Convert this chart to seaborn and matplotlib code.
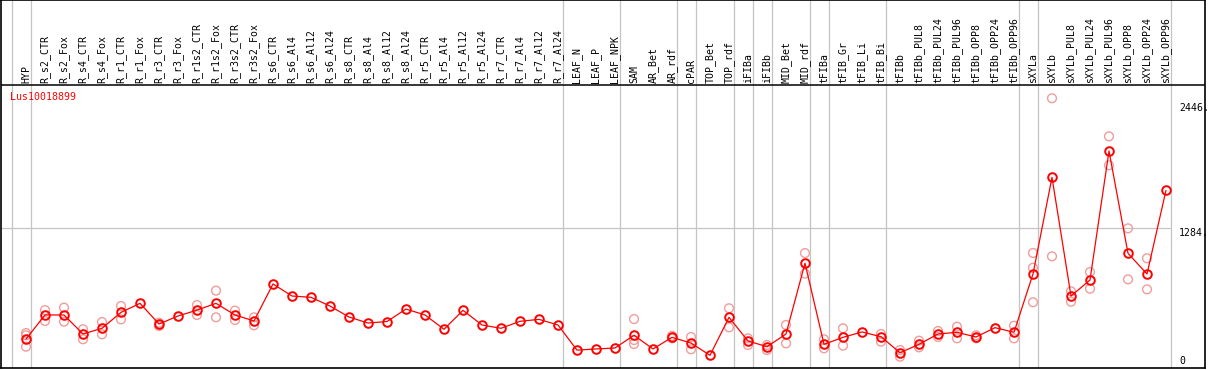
import numpy as np
import pandas as pd
import matplotlib
matplotlib.use("Agg")
import matplotlib.pyplot as plt
import seaborn as sns

# ---------------- data ----------------
categories = [
    "HYP", "R_s2_CTR", "R_s2_Fox", "R_s4_CTR", "R_s4_Fox", "R_r1_CTR", "R_r1_Fox",
    "R_r3_CTR", "R_r3_Fox", "R_r1s2_CTR", "R_r1s2_Fox", "R_r3s2_CTR", "R_r3s2_Fox",
    "R_s6_CTR", "R_s6_Al4", "R_s6_Al12", "R_s6_Al24", "R_s8_CTR", "R_s8_Al4",
    "R_s8_Al12", "R_s8_Al24", "R_r5_CTR", "R_r5_Al4", "R_r5_Al12", "R_r5_Al24",
    "R_r7_CTR", "R_r7_Al4", "R_r7_Al12", "R_r7_Al24", "LEAF_N", "LEAF_P", "LEAF_NPK",
    "SAM", "AR_Bet", "AR_rdf", "cPAR", "TOP_Bet", "TOP_rdf", "iFIBa", "iFIBb",
    "MID_Bet", "MID_rdf", "tFIBa", "tFIB_Gr", "tFIB_Li", "tFIB_Bi", "tFIBb",
    "tFIBb_PUL8", "tFIBb_PUL24", "tFIBb_PUL96", "tFIBb_OPP8", "tFIBb_OPP24",
    "tFIBb_OPP96", "sXYLa", "sXYLb", "sXYLb_PUL8", "sXYLb_PUL24", "sXYLb_PUL96",
    "sXYLb_OPP8", "sXYLb_OPP24", "sXYLb_OPP96",
]

mean_values = [
    255, 479, 479, 302, 355, 503, 587, 395, 469, 524, 587, 479, 423,
    767, 655, 643, 562, 460, 404, 418, 534, 479, 346, 522, 386,
    355, 420, 438, 386, 152, 163, 172,
    290, 163, 271, 218, 104, 457, 237, 184,
    302, 960, 206, 271, 321, 277, 128,
    206, 302, 318, 274, 361, 318,
    860, 1758, 655, 804, 2003, 1052, 860, 1637,
]

replicate_values = [
    [311, 290, 184], [524, 423], [547, 417], [346, 253], [413, 299], [562, 438], [],
    [407, 376], [], [571, 479], [705, 457], [519, 432], [457, 383],
    [], [], [], [], [], [], [], [], [], [], [], [],
    [], [], [], [], [], [], [],
    [441, 246, 209], [], [285, 262], [274, 160], [], [541, 364], [262, 200], [200, 153],
    [386, 215], [1054, 863], [253, 169], [355, 194], [], [302, 231], [153, 91],
    [240, 178], [330, 274], [370, 262], [290, 262], [], [379, 262],
    [1055, 918, 597], [2493, 1024], [699, 602], [878, 723], [2139, 1870],
    [1284, 810], [1006, 717], [],
]

group_starts = [0, 1, 29, 32, 35, 36, 38, 39, 40, 42, 43, 46, 53, 54, 61]
ytick_values = [0, 1284, 2446]
ytick_labels = ["0", "1284.", "2446."]
title_text = "Lus10018899"

# ---------------- layout ----------------
W, H = 1209, 370
PX_PER_UNIT = 0.1076      # pixels per value unit
ZERO_PX = 366.5           # pixel row of value 0
X0_PX, DX_PX = 26.0, 19.0 # pixel of first category, spacing

def vy(px):   # pixel row -> value
    return (ZERO_PX - px) / PX_PER_UNIT

def ix(px):   # pixel column -> category index
    return (px - X0_PX) / DX_PX

sns.set_style("white")
plt.rcParams["font.family"] = ["DejaVu Sans Mono", "DejaVu Sans"]
FS = 7.1

fig = plt.figure(figsize=(W / 100, H / 100), dpi=100)
ax = fig.add_axes([1 / W, (H - 368) / H, 1204 / W, 368 / H])

df_mean = pd.DataFrame({"idx": np.arange(len(categories)), "value": mean_values})
rows = [(i, v) for i, reps in enumerate(replicate_values) for v in reps]
df_rep = pd.DataFrame(rows, columns=["idx", "value"])

sns.scatterplot(data=df_rep, x="idx", y="value", ax=ax, marker="o", s=40,
                facecolor="none", edgecolor="#f29c9c", linewidth=1.0, zorder=2)
sns.lineplot(data=df_mean, x="idx", y="value", ax=ax, color="red", linewidth=0.9,
             marker="o", markersize=6.2, markerfacecolor="none",
             markeredgecolor="red", markeredgewidth=1.4, zorder=3)

ax.set_xlim(ix(1), ix(1205))
ax.set_ylim(vy(368), vy(0))
ax.set_xticks([])
ax.set_yticks([])
ax.set_xlabel("")
ax.set_ylabel("")
for sp in ax.spines.values():
    sp.set_color("black")
    sp.set_linewidth(1.2)

# group separators
for s in group_starts:
    ax.axvline(s - 0.763, color="#c4c4c4", lw=0.9, zorder=1)

# header separator and grid line
v_hdr = vy(85)
ax.axhline(v_hdr, color="black", lw=1.1, zorder=4)
ax.axhline(1284, xmin=0, xmax=(1170 - 1) / 1204, color="#c4c4c4", lw=0.9, zorder=0)

# category labels
for i, c in enumerate(categories):
    ax.text(i, v_hdr + 1.8 / PX_PER_UNIT, c, rotation=90, ha="center", va="bottom",
            fontsize=FS, color="black")

# title
ax.text(ix(10), vy(97), title_text, ha="left", va="center", fontsize=FS, color="red")

# y tick labels on the right
for v, lab in zip(ytick_values, ytick_labels):
    ax.text(ix(1179), v, lab, ha="left", va="bottom" if v == 0 else "top",
            fontsize=FS, color="black")

fig.savefig("out.png", dpi=100)
